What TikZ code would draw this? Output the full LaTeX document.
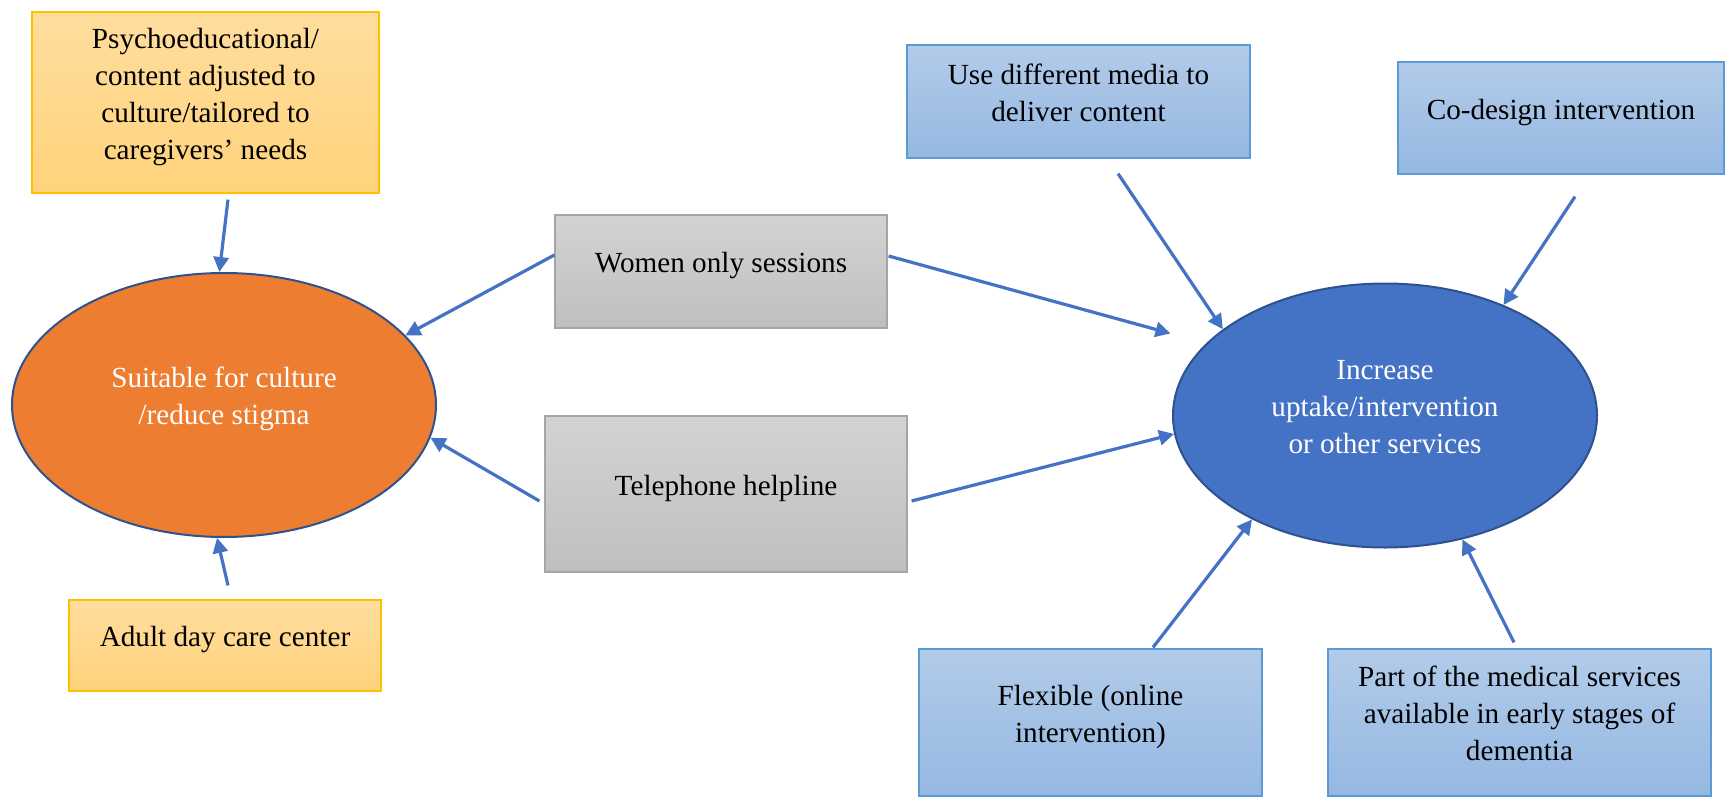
\documentclass[tikz,border=0pt]{standalone}
\usepackage{fontspec}
\setmainfont{Liberation Serif}
\usetikzlibrary{arrows.meta,positioning,shapes.geometric}

\definecolor{linkblue}{HTML}{4472C4}
\definecolor{ringblue}{HTML}{2F528F}
\definecolor{warmorange}{HTML}{ED7D31}
\definecolor{goldedge}{HTML}{FFC000}
\definecolor{goldtop}{HTML}{FFDD9D}
\definecolor{goldbot}{HTML}{FFD37C}
\definecolor{greyedge}{HTML}{A5A5A5}
\definecolor{greytop}{HTML}{D3D3D3}
\definecolor{greybot}{HTML}{BFBFBF}
\definecolor{skyedge}{HTML}{5B9BD5}
\definecolor{skytop}{HTML}{B2CBE9}
\definecolor{skybot}{HTML}{95B8E2}

\begin{document}
\begin{tikzpicture}[x=0.5pt, y=-0.5pt,
    every node/.style={font=\fontsize{14.6}{18.5}\selectfont, align=center, text depth=9pt},
    goldbox/.style={draw=goldedge, line width=0.6pt, top color=goldtop, bottom color=goldbot},
    greybox/.style={draw=greyedge, line width=0.6pt, top color=greytop, bottom color=greybot},
    skybox/.style={draw=skyedge, line width=0.6pt, top color=skytop, bottom color=skybot},
    goal/.style={ellipse, draw=ringblue, line width=1pt, text=white,
        minimum width=212pt, minimum height=132pt},
    link/.style={draw=linkblue, line width=1.6pt, -{Triangle[length=7.5pt,width=7.5pt]}}]

        \useasboundingbox (0,0) rectangle (1726,798);

        % Define the two outcomes
        \node[goal, fill=warmorange] (suitable) at (224,405) {Suitable for culture\\/reduce stigma};
        \node[goal, fill=linkblue] (uptake) at (1385,415.5) {Increase\\uptake/intervention\\or other services};

        % Left side boxes
        \node[goldbox, minimum width=173.5pt, minimum height=90.5pt] (psycho) at (205.5,102.5)
            {Psychoeducational/\\content adjusted to\\culture/tailored to\\caregivers’ needs};
        \node[goldbox, minimum width=156pt, minimum height=45.5pt] (adult) at (225,645.5) {Adult day care center};

        % Middle boxes
        \node[greybox, minimum width=166pt, minimum height=56.5pt] (women) at (721,271.5) {Women only sessions};
        \node[greybox, minimum width=181pt, minimum height=78pt] (phone) at (726,494) {Telephone helpline};

        % Right side boxes
        \node[skybox, minimum width=171.5pt, minimum height=56.5pt] (media) at (1078.5,101.5) {Use different media to\\deliver content};
        \node[skybox, minimum width=163pt, minimum height=56pt] (codesign) at (1561,118) {Co-design intervention};
        \node[skybox, minimum width=171.5pt, minimum height=73.5pt] (flex) at (1090.5,722.5) {Flexible (online\\intervention)};
        \node[skybox, minimum width=191.5pt, minimum height=73.5pt] (part) at (1519.5,722.5)
            {Part of the medical services\\available in early stages of\\dementia};

        \draw[link] ([shift={(22.5,6)}]psycho.south) -- (suitable.92);
        \draw[link] ([shift={(3,-14)}]adult.north) -- (suitable.-93);
        \draw[link] ([shift={(0,-16.5)}]women.west) -- (suitable.21);
        \draw[link] ([shift={(-5,7)}]phone.west) -- (suitable.-9);

        \draw[link, shorten >=18.5pt] ([shift={(1,-15.5)}]women.east) -- (uptake.158);
        \draw[link] ([shift={(4,7)}]phone.east) -- (uptake.185);
        \draw[link] ([shift={(39.5,15)}]media.south) -- (uptake.152);
        \draw[link] ([shift={(14,22)}]codesign.south) -- (uptake.43);
        \draw[link] ([shift={(62.5,-1)}]flex.north) -- (uptake.218);
        \draw[link] ([shift={(-5.5,-6)}]part.north) -- (uptake.-58);
    \end{tikzpicture}
\end{document}
